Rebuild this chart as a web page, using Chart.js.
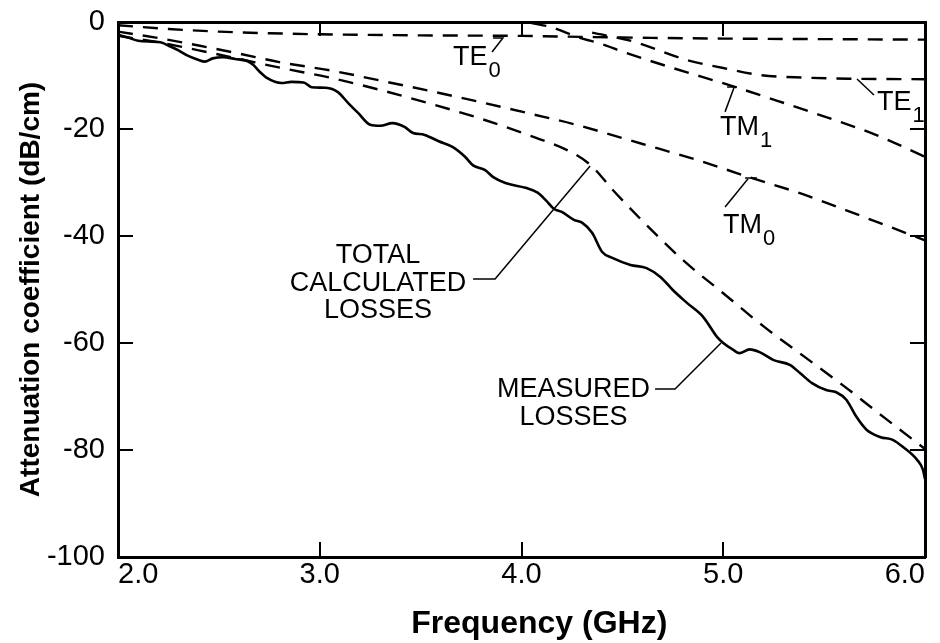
<!DOCTYPE html>
<html>
<head>
<meta charset="utf-8">
<script src="https://cdn.jsdelivr.net/npm/chart.js@4.4.0/dist/chart.umd.min.js"></script>
<style>
  html, body { margin: 0; padding: 0; background: #fff; }
</style>
</head>
<body>
<canvas id="lossChart" width="940" height="643"></canvas>
<script>
// axis ticks
const freqTicks = [2, 3, 4, 5, 6];
const lossTicks = [0, -20, -40, -60, -80, -100];

// measured losses (solid line)
const measuredFreq = [2.00, 2.05, 2.10, 2.21, 2.26, 2.30, 2.34, 2.40, 2.43, 2.47, 2.52, 2.58, 2.64, 2.67, 2.70,
  2.74, 2.81, 2.86, 2.92, 2.96, 3.03, 3.09, 3.14, 3.19, 3.25, 3.30, 3.36, 3.42, 3.46, 3.52, 3.59, 3.66, 3.72,
  3.76, 3.82, 3.86, 3.92, 4.02, 4.08, 4.12, 4.16, 4.20, 4.26, 4.30, 4.35, 4.40, 4.45, 4.54, 4.62, 4.69, 4.75,
  4.82, 4.90, 4.97, 5.00, 5.05, 5.08, 5.13, 5.18, 5.25, 5.33, 5.38, 5.44, 5.51, 5.56, 5.61, 5.66, 5.71, 5.78,
  5.84, 5.89, 5.96, 5.99, 6.00];
const measuredLoss = [-2.4, -2.9, -3.5, -3.8, -4.6, -5.3, -6.2, -7.1, -7.4, -6.8, -6.6, -6.9, -7.3, -8.0, -9.2,
  -10.5, -11.4, -11.2, -11.3, -12.2, -12.3, -13.1, -15.1, -17.0, -19.2, -19.4, -18.9, -19.6, -20.7, -21.1, -22.3, -23.4, -25.2,
  -26.8, -27.7, -29.0, -30.1, -31.0, -31.9, -33.3, -34.9, -35.5, -37.0, -37.5, -39.4, -43.0, -44.1, -45.4, -46.0, -47.7, -50.1,
  -52.5, -55.1, -58.9, -60.0, -61.3, -61.9, -61.2, -61.7, -63.2, -64.1, -65.6, -67.5, -68.8, -69.2, -70.6, -73.8, -76.2, -77.6,
  -78.1, -79.4, -81.8, -83.7, -85.4];

// calculated mode losses (dashed lines)
const te0Freq = [2.0, 2.25, 2.5, 2.75, 3.0, 3.5, 4.0, 4.5, 5.0, 5.5, 6.0];
const te0Loss = [-0.6, -1.3, -1.8, -2.1, -2.3, -2.5, -2.6, -2.9, -3.1, -3.2, -3.3];

const te1Freq = [4.35, 4.55, 4.82, 5.0, 5.18, 5.4, 5.63, 6.0];
const te1Loss = [-2.0, -3.6, -7.1, -8.6, -9.9, -10.4, -10.6, -10.7];

const tm1Freq = [4.05, 4.15, 4.27, 4.42, 4.49, 4.75, 5.03, 5.25, 5.48, 5.75, 5.96, 6.0];
const tm1Loss = [-0.2, -1.0, -2.7, -4.4, -5.4, -8.6, -11.8, -14.5, -17.4, -21.0, -24.5, -25.2];

const tm0Freq = [2.0, 2.2, 2.4, 2.6, 2.8, 3.06, 3.32, 3.56, 3.8, 4.05, 4.27, 4.6, 4.88, 5.12, 5.38, 5.61, 5.84, 6.0];
const tm0Loss = [-1.8, -3.0, -4.4, -5.9, -7.5, -9.1, -11.1, -13.0, -15.0, -17.2, -19.2, -22.8, -25.9, -28.9, -32.0, -35.2, -38.5, -40.8];

const totalFreq = [2.0, 2.2, 2.4, 2.6, 2.81, 3.05, 3.32, 3.57, 3.80, 4.03, 4.26, 4.35, 4.45, 4.6, 4.8, 5.0, 5.2, 5.4, 5.6, 5.8, 6.0];
const totalLoss = [-2.6, -3.8, -5.3, -6.9, -8.6, -10.4, -12.9, -15.5, -18.1, -21.1, -24.6, -27.0, -31.3, -37.2, -44.5, -50.7, -56.9, -62.5, -68.1, -74.0, -79.8];

// curve labels, anchored in data units (left edge / baseline of the main letters)
const modeLabels = [
  { name: "TE", sub: "0", x: 3.660, y: -8.0 },
  { name: "TE", sub: "1", x: 5.762, y: -16.45 },
  { name: "TM", sub: "1", x: 4.984, y: -21.1 },
  { name: "TM", sub: "0", x: 4.999, y: -39.4 }
];
const blockLabels = [
  { lines: ["TOTAL", "CALCULATED", "LOSSES"], x: 3.289, y: -45.05 },
  { lines: ["MEASURED", "LOSSES"], x: 4.258, y: -70.1 }
];
const leaderLines = [
  [[3.859, -2.99], [3.908, -2.99], [3.854, -5.61]],
  [[5.663, -10.65], [5.747, -13.64]],
  [[5.019, -12.15], [5.068, -12.15]],
  [[5.053, -12.3], [5.009, -16.8]],
  [[5.108, -29.16], [5.167, -29.16]],
  [[5.123, -29.3], [5.009, -34.58]],
  [[3.760, -48.04], [3.869, -48.04], [4.340, -26.92]],
  [[4.662, -68.6], [4.761, -68.6], [4.989, -60.0]]
];

const FONT = "'Liberation Sans', Arial, sans-serif";
const pts = (xs, ys) => xs.map((x, i) => ({ x: x, y: ys[i] }));

function curve(label, xs, ys, dashed) {
  return {
    label: label,
    data: pts(xs, ys),
    xAxisID: "x",
    yAxisID: "y",
    borderColor: "#000",
    borderWidth: dashed ? 2.4 : 2.6,
    borderDash: dashed ? [15, 10] : [],
    pointRadius: 0,
    cubicInterpolationMode: "monotone",
    fill: false
  };
}

const annotationPlugin = {
  id: "annotations",
  afterDatasetsDraw(chart) {
    const { ctx } = chart;
    const xs = chart.scales.x;
    const ys = chart.scales.y;
    ctx.save();
    ctx.strokeStyle = "#000";
    ctx.fillStyle = "#000";
    ctx.lineWidth = 1.5;
    leaderLines.forEach((line) => {
      ctx.beginPath();
      line.forEach(([fx, fy], i) => {
        const px = xs.getPixelForValue(fx);
        const py = ys.getPixelForValue(fy);
        if (i === 0) ctx.moveTo(px, py); else ctx.lineTo(px, py);
      });
      ctx.stroke();
    });

    ctx.textBaseline = "alphabetic";
    modeLabels.forEach((m) => {
      const px = xs.getPixelForValue(m.x);
      const py = ys.getPixelForValue(m.y);
      ctx.font = "27px " + FONT;
      ctx.textAlign = "left";
      ctx.fillText(m.name, px, py);
      const w = ctx.measureText(m.name).width;
      ctx.font = "22px " + FONT;
      ctx.fillText(m.sub, px + w + 1, py + 12);
    });

    ctx.font = "27px " + FONT;
    ctx.textAlign = "center";
    blockLabels.forEach((b) => {
      const px = xs.getPixelForValue(b.x);
      const py = ys.getPixelForValue(b.y);
      b.lines.forEach((t, i) => ctx.fillText(t, px, py + i * 27.5));
    });
    ctx.restore();
  }
};

const tickFont = { family: FONT, size: 29 };
const inwardGrid = (len) => ({ drawOnChartArea: false, drawTicks: true, tickLength: len, color: "#000", lineWidth: 2 });
const frame = { display: true, color: "#000", width: 3 };

new Chart(document.getElementById("lossChart").getContext("2d"), {
  type: "line",
  data: {
    datasets: [
      curve("Measured losses", measuredFreq, measuredLoss, false),
      curve("TE0", te0Freq, te0Loss, true),
      curve("TE1", te1Freq, te1Loss, true),
      curve("TM1", tm1Freq, tm1Loss, true),
      curve("TM0", tm0Freq, tm0Loss, true),
      curve("Total calculated losses", totalFreq, totalLoss, true)
    ]
  },
  options: {
    responsive: false,
    animation: false,
    layout: { padding: { left: 0, right: 15, top: 22, bottom: 0 } },
    plugins: { legend: { display: false }, tooltip: { enabled: false } },
    scales: {
      x: {
        type: "linear", axis: "x", position: "bottom", min: 2, max: 6,
        afterBuildTicks: (s) => { s.ticks = freqTicks.map((v) => ({ value: v })); },
        afterFit: (s) => { s.height = 86; s.paddingLeft = 0; s.paddingRight = 0; },
        ticks: { color: "#000", font: tickFont, padding: 16, maxRotation: 0, align: "inner", callback: (v) => v.toFixed(1) },
        grid: inwardGrid(-15),
        border: frame,
        // leading spaces nudge the centred title to the right, as in the original
        title: { display: true, text: "    Frequency (GHz)", color: "#000", font: { family: FONT, size: 32, weight: "bold" }, padding: { top: 0, bottom: 0 } }
      },
      xTop: {
        type: "linear", axis: "x", position: "top", min: 2, max: 6,
        afterBuildTicks: (s) => { s.ticks = freqTicks.map((v) => ({ value: v })); },
        afterFit: (s) => { s.height = 0; s.paddingLeft = 0; s.paddingRight = 0; },
        ticks: { display: false },
        grid: inwardGrid(-14),
        border: frame
      },
      y: {
        type: "linear", axis: "y", position: "left", min: -100, max: 0,
        afterBuildTicks: (s) => { s.ticks = lossTicks.map((v) => ({ value: v })); },
        afterFit: (s) => { s.width = 118; s.paddingTop = 0; s.paddingBottom = 0; },
        ticks: { color: "#000", font: tickFont, padding: 28, callback: (v) => String(v) },
        grid: inwardGrid(-15),
        border: frame,
        title: { display: true, text: "Attenuation coefficient (dB/cm)", color: "#000", font: { family: FONT, size: 28, weight: "bold" }, padding: { top: 14, bottom: 0 } }
      },
      yRight: {
        type: "linear", axis: "y", position: "right", min: -100, max: 0,
        afterBuildTicks: (s) => { s.ticks = lossTicks.map((v) => ({ value: v })); },
        afterFit: (s) => { s.width = 0; s.paddingTop = 0; s.paddingBottom = 0; },
        ticks: { display: false },
        grid: inwardGrid(-15),
        border: frame
      }
    }
  },
  plugins: [annotationPlugin]
});
</script>
</body>
</html>
